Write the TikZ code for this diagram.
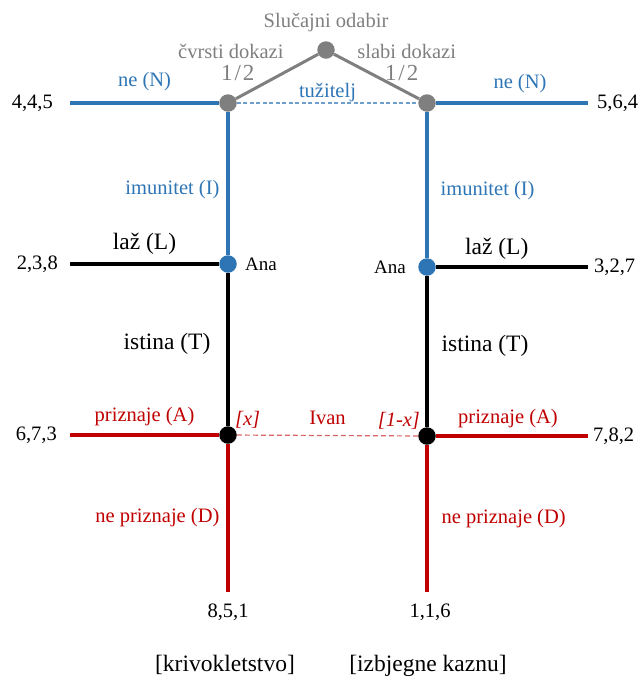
\documentclass[tikz,border=0pt]{standalone}
\usepackage{fontspec}
\setmainfont{Liberation Serif}
\usetikzlibrary{positioning}
\definecolor{treeblue}{RGB}{46, 117, 182}
\definecolor{treered}{RGB}{192, 0, 0}
\definecolor{treegray}{RGB}{127, 127, 127}

\begin{document}
\begin{tikzpicture}[
    x=1pt, y=-1pt,
    dot/.style={circle, inner sep=0pt, minimum size=17.5pt},
    branch/.style={line width=3.2pt},
    chanceline/.style={line width=3pt, treegray},
    info/.style={line width=1.2pt, dash pattern=on 4pt off 2.5pt},
    lbl/.style={font=\fontsize{20.5}{24}\selectfont, inner sep=2pt},
    biglbl/.style={font=\fontsize{23.5}{28}\selectfont, inner sep=2pt},
    chancelbl/.style={font=\fontsize{20.5}{24}\selectfont, inner sep=0pt, text=treegray},
    half/.style={font=\fontsize{23}{26}\selectfont, inner sep=0pt, text=treegray},
    belief/.style={font=\fontsize{20.5}{24}\selectfont\itshape, inner sep=0.5pt, text=treered},
    player/.style={font=\fontsize{19}{22}\selectfont, inner sep=0pt},
    payoff/.style={font=\fontsize{20.5}{24}\selectfont, inner sep=0pt}
]
\useasboundingbox (0,0) rectangle (638,681);

% Decision nodes
\node[dot, fill=treegray] (chance) at (326,50) {};
\node[dot, fill=treegray] (pL) at (228,103) {};
\node[dot, fill=treegray] (pR) at (427,103) {};
\node[dot, fill=treeblue] (anaL) at (228,264) {};
\node[dot, fill=treeblue] (anaR) at (427,267) {};
\node[dot, fill=black] (ivL) at (228,435) {};
\node[dot, fill=black] (ivR) at (427,436) {};

% Free ends of the branches
\coordinate (nL) at (70,103);
\coordinate (nR) at (588,103);
\coordinate (lL) at (70,264);
\coordinate (lR) at (588,267);
\coordinate (aL) at (70,435);
\coordinate (aR) at (588,436);
\coordinate (dL) at (228,592);
\coordinate (dR) at (427,592);

% Chance
\node[chancelbl, above=9pt of chance] (cname) {Slučajni odabir};
\draw[chanceline] (chance) -- node[half, left=21pt, yshift=4pt] (halfL) {1\kern2pt/\kern2pt2} (pL);
\draw[chanceline] (chance) -- node[half, right=7pt, yshift=4pt] (halfR) {1\kern2pt/\kern2pt2} (pR);
\node[chancelbl, above=4pt of halfL, xshift=-7pt] (strong) {čvrsti dokazi};
\node[chancelbl, above=4pt of halfR, xshift=5pt] (weak) {slabi dokazi};

% Prosecutor
\draw[branch, treeblue] (nL) -- node[lbl, above=9pt] {ne (N)} (pL);
\draw[branch, treeblue] (pR) -- node[lbl, above=7pt, xshift=8pt] {ne (N)} (nR);
\draw[branch, treeblue] (pL) -- node[lbl, left=5pt, pos=0.54] {imunitet (I)} (anaL);
\draw[branch, treeblue] (pR) -- node[lbl, right=10pt, pos=0.54] {imunitet (I)} (anaR);
\draw[info, treeblue!70] (pL) -- node[lbl, above, inner sep=1pt, text=treeblue] {tužitelj} (pR);

% Ana
\draw[branch] (lL) -- node[biglbl, above=6pt] {laž (L)} (anaL);
\draw[branch] (anaR) -- node[biglbl, above=4pt, pos=0.4] {laž (L)} (lR);
\draw[branch] (anaL) -- node[biglbl, left=14pt, pos=0.46] {istina (T)} (ivL);
\draw[branch] (anaR) -- node[biglbl, right=11pt, pos=0.46] {istina (T)} (ivR);
\node[player, right=8pt of anaL] (anaNameL) {Ana};
\node[player, left=12pt of anaR] (anaNameR) {Ana};

% Ivan
\draw[branch, treered] (aL) -- node[lbl, above=6pt] {priznaje (A)} (ivL);
\draw[branch, treered] (ivR) -- node[lbl, above=5pt, xshift=-4pt] {priznaje (A)} (aR);
\draw[branch, treered] (ivL) -- node[lbl, left=5pt] {ne priznaje (D)} (dL);
\draw[branch, treered] (ivR) -- node[lbl, right=11pt] {ne priznaje (D)} (dR);
\draw[info, treered!60, dash pattern=on 5pt off 3pt] (ivL) -- node[lbl, above=8pt, text=treered] {Ivan} (ivR);
\node[belief, above right=0pt of ivL] (xL) {[x]};
\node[belief, above left=0pt of ivR] (xR) {[1-x]};

% Payoffs
\node[payoff, left=17pt of nL] (u445) {4,4,5};
\node[payoff, right=9pt of nR] (u564) {5,6,4};
\node[payoff, left=12pt of lL] (u238) {2,3,8};
\node[payoff, right=6pt of lR] (u327) {3,2,7};
\node[payoff, left=13pt of aL] (u673) {6,7,3};
\node[payoff, right=5pt of aR] (u782) {7,8,2};
\node[payoff, below=12pt of dL] (u851) {8,5,1};
\node[payoff, below=12pt of dR, xshift=3pt] (u116) {1,1,6};

% Outcomes
\node[biglbl, below=32pt of u851, xshift=-3pt] (perjury) {[krivokletstvo]};
\node[biglbl, below=32pt of u116, xshift=-2pt] (escape) {[izbjegne kaznu]};

\end{tikzpicture}
\end{document}
